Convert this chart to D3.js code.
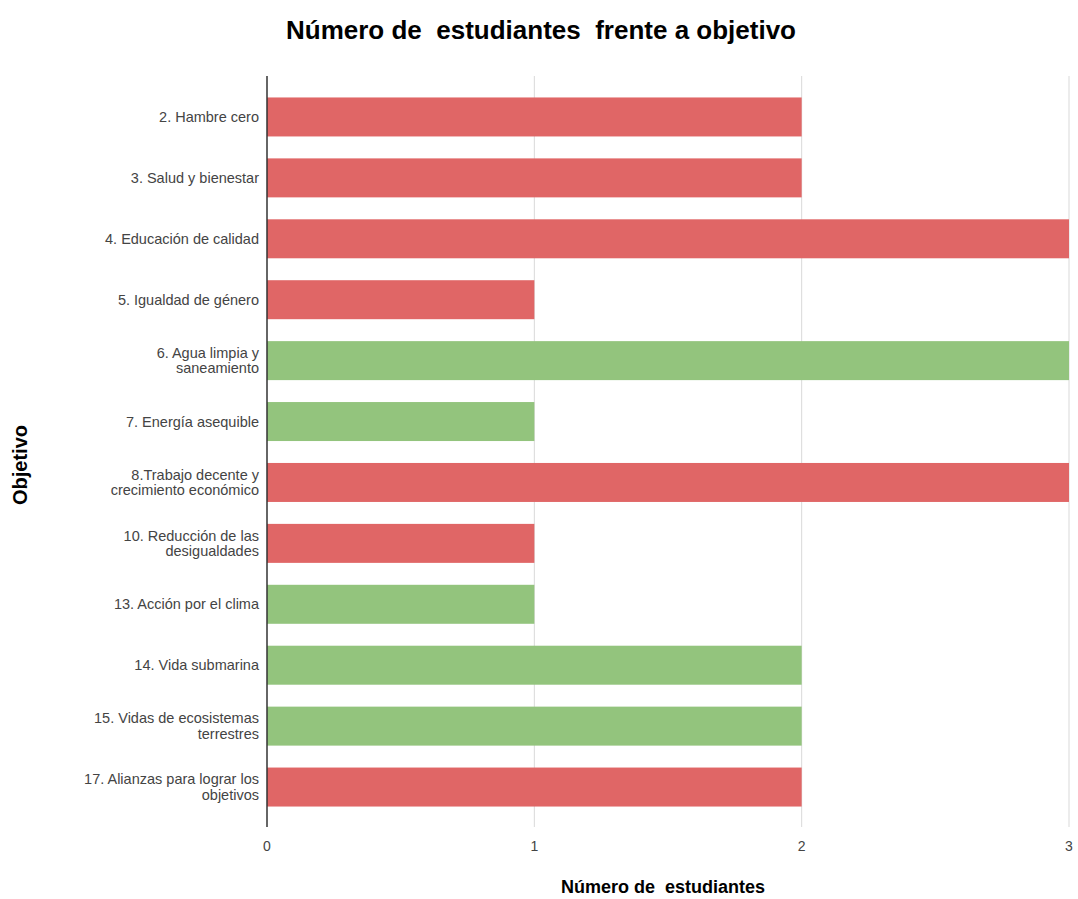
<!DOCTYPE html>
<html>
<head>
<meta charset="utf-8">
<script src="https://cdn.jsdelivr.net/npm/d3@7"></script>
<style>
  body { margin: 0; background: #fff; }
  text { font-family: "Liberation Sans", Arial, sans-serif; }
</style>
</head>
<body>
<div id="chart"></div>
<script>
// chart data
const categories = [
  ["2. Hambre cero"],
  ["3. Salud y bienestar"],
  ["4. Educación de calidad"],
  ["5. Igualdad de género"],
  ["6. Agua limpia y", "saneamiento"],
  ["7. Energía asequible"],
  ["8.Trabajo decente y", "crecimiento económico"],
  ["10. Reducción de las", "desigualdades"],
  ["13. Acción por el clima"],
  ["14. Vida submarina"],
  ["15. Vidas de ecosistemas", "terrestres"],
  ["17. Alianzas para lograr los", "objetivos"]
];
const values = [2, 2, 3, 1, 3, 1, 3, 1, 1, 2, 2, 2];
const groups = ["r", "r", "r", "r", "g", "g", "r", "r", "g", "g", "g", "r"];
const xTicks = [0, 1, 2, 3];

const width = 1078, height = 899;
const plotTop = 76, plotBottom = 827;
const left = 267, right = 1069;

const svg = d3.select("#chart").append("svg")
    .attr("width", width)
    .attr("height", height);

const x = d3.scaleLinear().domain([0, 3]).range([left, right]);
const y = d3.scaleBand()
    .domain(d3.range(categories.length))
    .range([86.5, 817.5])
    .paddingInner(0.36)
    .paddingOuter(0.18);

const color = d => d === "g" ? "#93c47d" : "#e06666";

// gridlines
svg.append("g")
    .selectAll("line")
    .data(xTicks.slice(1))
    .join("line")
    .attr("x1", d => x(d))
    .attr("x2", d => x(d))
    .attr("y1", plotTop)
    .attr("y2", plotBottom)
    .attr("stroke", "#d9d9d9")
    .attr("stroke-width", 1);

// bars
svg.append("g")
    .selectAll("rect")
    .data(values)
    .join("rect")
    .attr("x", x(0))
    .attr("y", (d, i) => y(i))
    .attr("width", d => x(d) - x(0))
    .attr("height", y.bandwidth())
    .attr("fill", (d, i) => color(groups[i]));

// axis line at zero
svg.append("line")
    .attr("x1", x(0)).attr("x2", x(0))
    .attr("y1", plotTop).attr("y2", plotBottom)
    .attr("stroke", "#333")
    .attr("stroke-width", 1.5);

// category labels
const labels = svg.append("g")
    .selectAll("text")
    .data(categories)
    .join("text")
    .attr("text-anchor", "end")
    .attr("fill", "#444")
    .style("font-size", "14.5px")
    .attr("transform", (d, i) => `translate(259,${y(i) + y.bandwidth() / 2})`);

labels.selectAll("tspan")
    .data(d => d.map((t, j) => ({ t, j, n: d.length })))
    .join("tspan")
    .attr("x", 0)
    .attr("y", d => (d.j - (d.n - 1) / 2) * 15.5)
    .attr("dy", "0.35em")
    .text(d => d.t);

// x tick labels
svg.append("g")
    .selectAll("text")
    .data(xTicks)
    .join("text")
    .attr("x", d => x(d))
    .attr("y", 851)
    .attr("text-anchor", "middle")
    .attr("fill", "#444")
    .style("font-size", "14px")
    .text(d => d);

// title
svg.append("text")
    .attr("x", 541)
    .attr("y", 39)
    .attr("text-anchor", "middle")
    .attr("fill", "#000")
    .style("font-size", "26px")
    .style("font-weight", "bold")
    .style("white-space", "pre")
    .text("Número de  estudiantes  frente a objetivo");

// axis titles
svg.append("text")
    .attr("x", 663)
    .attr("y", 893)
    .attr("text-anchor", "middle")
    .attr("fill", "#000")
    .style("font-size", "18px")
    .style("font-weight", "bold")
    .style("white-space", "pre")
    .text("Número de  estudiantes");

svg.append("text")
    .attr("transform", "translate(27,465) rotate(-90)")
    .attr("text-anchor", "middle")
    .attr("fill", "#000")
    .style("font-size", "20px")
    .style("font-weight", "bold")
    .text("Objetivo");
</script>
</body>
</html>
